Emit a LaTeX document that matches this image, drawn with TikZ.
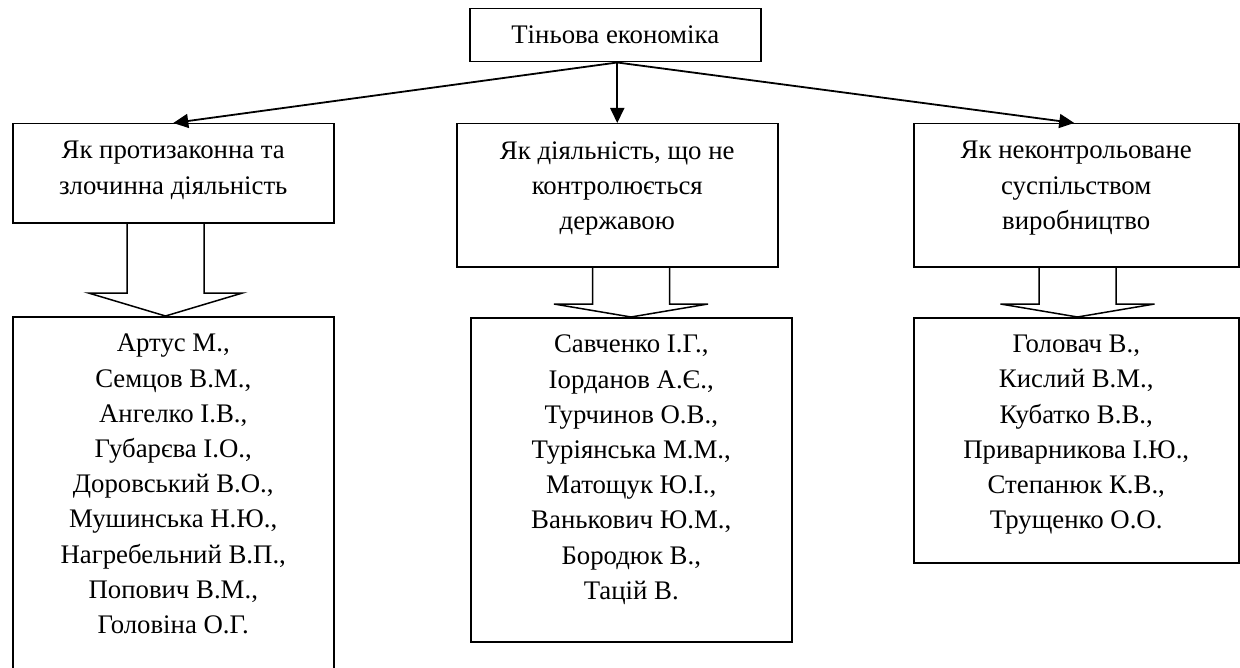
\documentclass[tikz,border=0pt]{standalone}
\usepackage{fontspec}
\setmainfont{Liberation Serif}
\usetikzlibrary{arrows.meta}

\begin{document}
\begin{tikzpicture}[x=0.5pt,y=-0.5pt,font=\fontsize{13.4}{17.6}\selectfont,
    box/.style={draw,line width=0.75pt,inner sep=0pt,anchor=north west},
    lines/.style={align=center,inner sep=0pt,anchor=north},
    link/.style={line width=0.9pt,-{Triangle[length=7.5pt,width=7pt]}},
    hollow/.style={line width=0.75pt,line join=miter}]
  \useasboundingbox (0,0) rectangle (1240,668);
  % top box
  \node[box,minimum width=145.5pt,minimum height=26.5pt] (eco) at (469,8) {Тіньова економіка};
  % three views
  \node[box,minimum width=160.5pt,minimum height=49.5pt] (crime) at (12,123) {};
  \node[box,minimum width=160.5pt,minimum height=71.5pt] (state) at (456,123) {};
  \node[box,minimum width=162.5pt,minimum height=71.5pt] (society) at (913,123) {};
  \node[lines] (crimeTxt) at ([yshift=-9pt]crime.north) {Як протизаконна та\\злочинна діяльність};
  \node[lines] (stateTxt) at ([yshift=-9pt]state.north) {Як діяльність, що не\\контролюється\\державою};
  \node[lines] (societyTxt) at ([yshift=-9pt]society.north) {Як неконтрольоване\\суспільством\\виробництво};
  % authors
  \node[box,minimum width=160.5pt,minimum height=180pt] (crimeList) at (12,316) {};
  \node[box,minimum width=160.5pt,minimum height=162pt] (stateList) at (470,317) {};
  \node[box,minimum width=162.5pt,minimum height=122.5pt] (societyList) at (913,317) {};
  \node[lines] (crimeNames) at ([yshift=-8.9pt]crimeList.north) {Артус М.,\\Семцов В.М.,\\Ангелко І.В.,\\Губарєва І.О.,\\Доровський В.О.,\\Мушинська Н.Ю.,\\Нагребельний В.П.,\\Попович В.М.,\\Головіна О.Г.};
  \node[lines] (stateNames) at ([yshift=-8.9pt]stateList.north) {Савченко І.Г.,\\Іорданов А.Є.,\\Турчинов О.В.,\\Туріянська М.М.,\\Матощук Ю.І.,\\Ванькович Ю.М.,\\Бородюк В.,\\Тацій В.};
  \node[lines] (societyNames) at ([yshift=-8.9pt]societyList.north) {Головач В.,\\Кислий В.М.,\\Кубатко В.В.,\\Приварникова І.Ю.,\\Степанюк К.В.,\\Трущенко О.О.};
  % arrows
  \coordinate (src) at ([xshift=1pt]eco.south);
  \draw[link] (src) -- (crime.north);
  \draw[link] (src) -- (src |- state.north);
  \draw[link] (src) -- ([xshift=-1pt]society.north);
  \foreach \cx/\ya/\yb/\tip in {165.5/222/293/316, 631/266/304/317, 1077.5/266/304/317}
    \draw[hollow] ({\cx-38.5},\ya) -- ({\cx-38.5},\yb) -- ({\cx-77},\yb) -- (\cx,\tip)
      -- ({\cx+77},\yb) -- ({\cx+38.5},\yb) -- ({\cx+38.5},\ya);
\end{tikzpicture}
\end{document}
